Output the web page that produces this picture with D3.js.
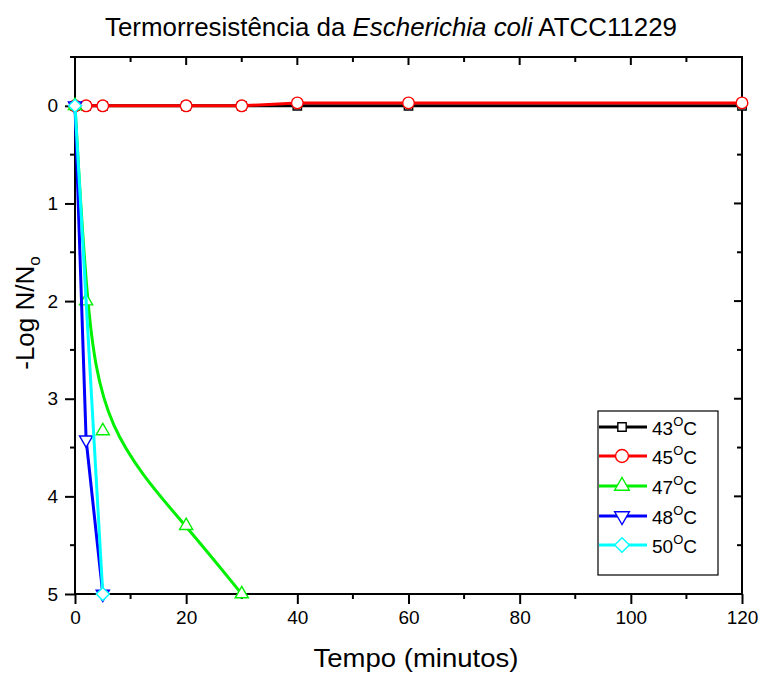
<!DOCTYPE html>
<html>
<head>
<meta charset="utf-8">
<script src="https://cdn.jsdelivr.net/npm/d3@7"></script>
<style>
  body { margin: 0; background: #fff; }
  svg { font-family: "Liberation Sans", Arial, sans-serif; }
</style>
</head>
<body>
<svg id="plot" width="760" height="675"></svg>
<script>
// series data: time (min) vs -log N/No
const SERIES_NAMES = ['43', '45', '47', '48', '50'];
const T43 = [0, 2, 5, 20, 30, 40, 60, 120];
const Y43 = [0, 0, 0, 0, 0, 0, 0, 0];
const T45 = [0, 2, 5, 20, 30, 40, 60, 120];
const Y45 = [0, 0, 0, 0, 0, -0.03, -0.03, -0.03];
const T47 = [0, 2, 5, 20, 30];
const Y47 = [0, 2, 3.33, 4.3, 5];
const T48 = [0, 2, 5];
const Y48 = [0, 3.42, 5];
const T50 = [0, 5];
const Y50 = [0, 5];
const X_TICKS = [0, 20, 40, 60, 80, 100, 120];
const Y_TICKS = [0, 1, 2, 3, 4, 5];

const COLORS = ['#000000', '#ff0000', '#00f000', '#0000ff', '#00ffff'];
// symbol, rotation, size
const MARKS = [
	[d3.symbolSquare, 0, 70],
	[d3.symbolCircle, 0, 105],
	[d3.symbolTriangle, 0, 75],
	[d3.symbolTriangle, 180, 75],
	[d3.symbolSquare, 45, 85]
];

const svg = d3.select('#plot');
const pL = 75, pR = 742, pT = 57, pB = 594;

const x = d3.scaleLinear().domain([0, 120]).range([pL, pR]);
const y = d3.scaleLinear().domain([-0.5, 5]).range([pT, pB]);

const series = [[T43, Y43], [T45, Y45], [T47, Y47], [T48, Y48], [T50, Y50]].map((s, i) => ({
	name: SERIES_NAMES[i],
	pts: s[0].map((t, j) => [t, s[1][j]]),
	color: COLORS[i],
	mark: MARKS[i]
}));

// title
const title = svg.append('text')
	.attr('x', 391).attr('y', 36)
	.attr('text-anchor', 'middle')
	.attr('font-size', 26)
	.attr('textLength', 572)
	.attr('lengthAdjust', 'spacingAndGlyphs');
title.append('tspan').text('Termorresistência da ');
title.append('tspan').attr('font-style', 'italic').text('Escherichia coli');
title.append('tspan').text(' ATCC11229');

// axes
const xAxis = d3.axisBottom(x).tickValues(X_TICKS).tickSize(10).tickPadding(7).tickFormat(d3.format('d'));
const yAxis = d3.axisLeft(y).tickValues(Y_TICKS).tickSize(10).tickPadding(7).tickFormat(d3.format('d'));

const gx = svg.append('g').attr('transform', `translate(0,${pB})`).call(xAxis);
const gy = svg.append('g').attr('transform', `translate(${pL},0)`).call(yAxis);
[gx, gy].forEach(g => {
	g.select('.domain').remove();
	g.selectAll('line').attr('stroke', '#000').attr('stroke-width', 2);
	g.selectAll('text').attr('font-size', 19).attr('fill', '#000')
		.attr('font-family', '"Liberation Sans", Arial, sans-serif');
});

// minor ticks
const minorX = d3.range(10, 120, 20);
const minorY = d3.range(-0.5, 5, 0.5).filter(v => Math.abs(v - Math.round(v)) > 0.1);
svg.append('g').selectAll('line').data(minorX).join('line')
	.attr('x1', d => x(d)).attr('x2', d => x(d))
	.attr('y1', pB).attr('y2', pB + 5)
	.attr('stroke', '#000').attr('stroke-width', 2);
svg.append('g').selectAll('line').data(minorY).join('line')
	.attr('x1', pL - 5).attr('x2', pL)
	.attr('y1', d => y(d)).attr('y2', d => y(d))
	.attr('stroke', '#000').attr('stroke-width', 2);

// top & right inward ticks
svg.append('g').selectAll('line').data(d3.range(10, 120, 10)).join('line')
	.attr('x1', d => x(d)).attr('x2', d => x(d))
	.attr('y1', pT).attr('y2', d => pT + (d % 20 === 0 ? 8 : 5))
	.attr('stroke', '#000').attr('stroke-width', 2);
svg.append('g').selectAll('line').data(d3.range(0, 5, 0.5)).join('line')
	.attr('x1', d => pR - (d % 1 === 0 ? 8 : 5)).attr('x2', pR)
	.attr('y1', d => y(d)).attr('y2', d => y(d))
	.attr('stroke', '#000').attr('stroke-width', 2);

// frame
svg.append('rect')
	.attr('x', pL).attr('y', pT)
	.attr('width', pR - pL).attr('height', pB - pT)
	.attr('fill', 'none').attr('stroke', '#000').attr('stroke-width', 2);

// axis labels
svg.append('text')
	.attr('x', 416).attr('y', 667)
	.attr('text-anchor', 'middle')
	.attr('font-size', 26)
	.attr('textLength', 205)
	.attr('lengthAdjust', 'spacingAndGlyphs')
	.text('Tempo (minutos)');

const yl = svg.append('text')
	.attr('transform', `translate(34,313) rotate(-90)`)
	.attr('text-anchor', 'middle')
	.attr('font-size', 26);
yl.append('tspan').text('-Log N/N');
yl.append('tspan').attr('font-size', 17).attr('dy', 6).text('o');

// lines and markers
const plotArea = svg.append('g');
series.forEach((s, i) => {
	const line = d3.line()
		.x(d => x(d[0])).y(d => y(d[1]))
		.curve(i === 2 ? d3.curveBasis : d3.curveLinear);
	plotArea.append('path')
		.datum(s.pts)
		.attr('d', line)
		.attr('fill', 'none')
		.attr('stroke', s.color)
		.attr('stroke-width', 3);
	plotArea.append('g').selectAll('path').data(s.pts).join('path')
		.attr('d', d3.symbol().type(s.mark[0]).size(s.mark[2]))
		.attr('transform', d => `translate(${x(d[0])},${y(d[1])}) rotate(${s.mark[1]})`)
		.attr('fill', '#fff')
		.attr('stroke', s.color)
		.attr('stroke-width', 1.4);
});

// legend
const legend = svg.append('g');
legend.append('rect')
	.attr('x', 598).attr('y', 411)
	.attr('width', 120).attr('height', 164)
	.attr('fill', '#fff').attr('stroke', '#000').attr('stroke-width', 1.2);
const legY = [427, 456, 486, 516, 545];
series.forEach((s, i) => {
	const g = legend.append('g').attr('transform', `translate(0,${legY[i]})`);
	g.append('line')
		.attr('x1', 599).attr('x2', 647)
		.attr('stroke', s.color).attr('stroke-width', 3);
	g.append('path')
		.attr('d', d3.symbol().type(s.mark[0]).size(s.mark[2] * (i === 0 ? 1 : 1.25))())
		.attr('transform', `translate(622,0) rotate(${s.mark[1]})`)
		.attr('fill', '#fff')
		.attr('stroke', s.color)
		.attr('stroke-width', 1.4);
	const t = g.append('text').attr('x', 652).attr('y', 8).attr('font-size', 19);
	t.append('tspan').text(s.name);
	t.append('tspan').attr('font-size', 13).attr('dy', -9).text('O');
	t.append('tspan').attr('dy', 9).text('C');
});
</script>
</body>
</html>
